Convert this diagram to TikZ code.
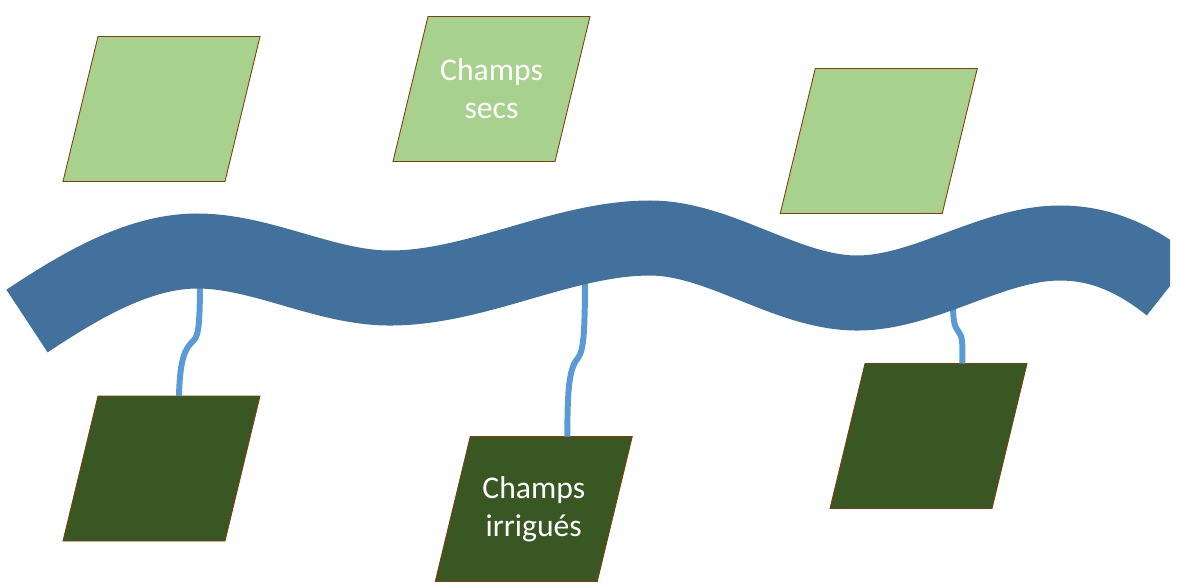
\documentclass[tikz,border=0pt]{standalone}
\usepackage{fontspec}
\setmainfont{Carlito}
\usetikzlibrary{calc}

\definecolor{riverblue}{HTML}{41719C}
\definecolor{canalblue}{HTML}{5B9BD5}
\definecolor{dryfield}{HTML}{A9D18E}
\definecolor{wetfield}{HTML}{385723}
\definecolor{fieldedge}{HTML}{843C0C}

\tikzset{
  field/.style={draw=fieldedge, line width=0.5pt},
  fieldtext/.style={text=white, align=center, inner sep=0pt,
    font=\fontsize{18}{21.5}\selectfont},
  canal/.style={draw=canalblue, line width=3.4pt},
  river/.style={draw=riverblue, line width=42.7pt}
}

\begin{document}
\begin{tikzpicture}[x=0.02cm, y=-0.02cm]
  \useasboundingbox (0,0) rectangle (1192,586);
  % fields
  \foreach \nm/\x/\y/\col/\lbl in {sec1/161.5/109/dryfield/{},
                                   sec2/491.5/89/dryfield/{Champs\\secs},
                                   sec3/878.75/141/dryfield/{},
                                   irr1/161.5/468.5/wetfield/{},
                                   irr2/533.75/509/wetfield/{Champs\\irrigués},
                                   irr3/928.5/436/wetfield/{}} {
    \draw[field, fill=\col] (\x,\y) ++(-98.5,72.5) -- ++(162,0)
      -- ++(35,-145) coordinate (\nm-tr) -- ++(-162,0) coordinate (\nm-tl) -- cycle;
    \node[fieldtext] (\nm) at (\x,\y) {\lbl};
  }
  % canals
  \coordinate (prise1) at (200,275);
  \coordinate (prise2) at (585,270);
  \coordinate (prise3) at (953,300);
  \draw[canal] (prise1) .. controls (200,320) and (199,335) .. (194,340)
    .. controls (186,348) and (180,355) .. ($(irr1-tl)!0.5!(irr1-tr)$);
  \draw[canal] (prise2) .. controls (585,330) and (584,350) .. (578,358)
    .. controls (571,366) and (567,380) .. ($(irr2-tl)!0.6!(irr2-tr)$);
  \draw[canal] (prise3) .. controls (953,320) and (954,326) .. (958,331)
    .. controls (962,336) and (963,340) .. ($(irr3-tl)!0.6!(irr3-tr)$);
  % river
  \begin{scope}
    \clip (0,0) rectangle (1170,586);
    \draw[river] (27,321) .. controls (77,288) and (137,251) .. (197,251)
      .. controls (262,251) and (325,288) .. (390,288)
      .. controls (477,288) and (563,238) .. (650,238)
      .. controls (720,238) and (787,293) .. (857,293)
      .. controls (925,293) and (992,243) .. (1060,243)
      .. controls (1100,243) and (1135,258) .. (1170,286);
  \end{scope}
\end{tikzpicture}
\end{document}
